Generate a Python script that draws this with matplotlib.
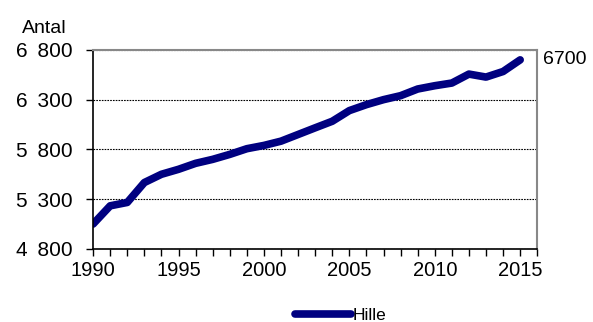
import matplotlib.pyplot as plt
from matplotlib.ticker import MultipleLocator, FixedLocator, FuncFormatter

plt.rcParams['font.family'] = ['Liberation Sans', 'DejaVu Sans']

# === DATA ===
years = list(range(1990, 2016))
antal = [5050, 5233, 5267, 5467, 5550, 5600, 5660, 5700, 5750, 5807,
         5840, 5883, 5950, 6017, 6083, 6190, 6250, 6300, 6340, 6407,
         6440, 6467, 6557, 6527, 6583, 6700]
y_ticks = [4800, 5300, 5800, 6300, 6800]
series_name = "Hille"
end_label = "6700"

# === Plot setup ===
fig = plt.figure(figsize=(5.93, 3.22), dpi=100)
ax = fig.add_axes([0.157, 0.227, 0.749, 0.618])

line, = ax.plot(years, antal, color="#000080", lw=5.5, solid_capstyle="round",
                solid_joinstyle="round", label=series_name)

ax.set_xlim(1990, 2016)
ax.set_ylim(y_ticks[0], y_ticks[-1])
ax.xaxis.set_major_locator(MultipleLocator(5))
ax.xaxis.set_minor_locator(MultipleLocator(1))
ax.yaxis.set_major_locator(FixedLocator(y_ticks))
ax.yaxis.set_major_formatter(FuncFormatter(lambda v, p: f"{int(v):,}".replace(",", " \u2009")))

ax.tick_params(axis="y", which="major", labelsize=15, direction="out", length=5, width=1, pad=10)
ax.tick_params(axis="x", which="major", labelsize=14.5, direction="out", length=5, width=1, pad=4)
ax.tick_params(axis="x", which="minor", direction="out", length=5, width=1)

ax.grid(axis="y", linestyle=(0, (1.5, 1)), color="black", lw=0.8)
for s in ("top", "right"):
    ax.spines[s].set_color("#888888")
    ax.spines[s].set_linewidth(1.5)
for s in ("left", "bottom"):
    ax.spines[s].set_linewidth(1.2)

ax.text(-0.06, 1.065, "Antal", transform=ax.transAxes, ha="right", va="bottom", fontsize=14)
ax.text(1.012, (antal[-1] - y_ticks[0]) / (y_ticks[-1] - y_ticks[0]), end_label,
        transform=ax.transAxes, fontsize=14, va="center", ha="left")

fig.legend(handles=[line], loc="center", bbox_to_anchor=(0.575, 0.02), frameon=False,
           fontsize=12.5, handlelength=3.2, handletextpad=0.1)

fig.savefig("out.png", dpi=100)
